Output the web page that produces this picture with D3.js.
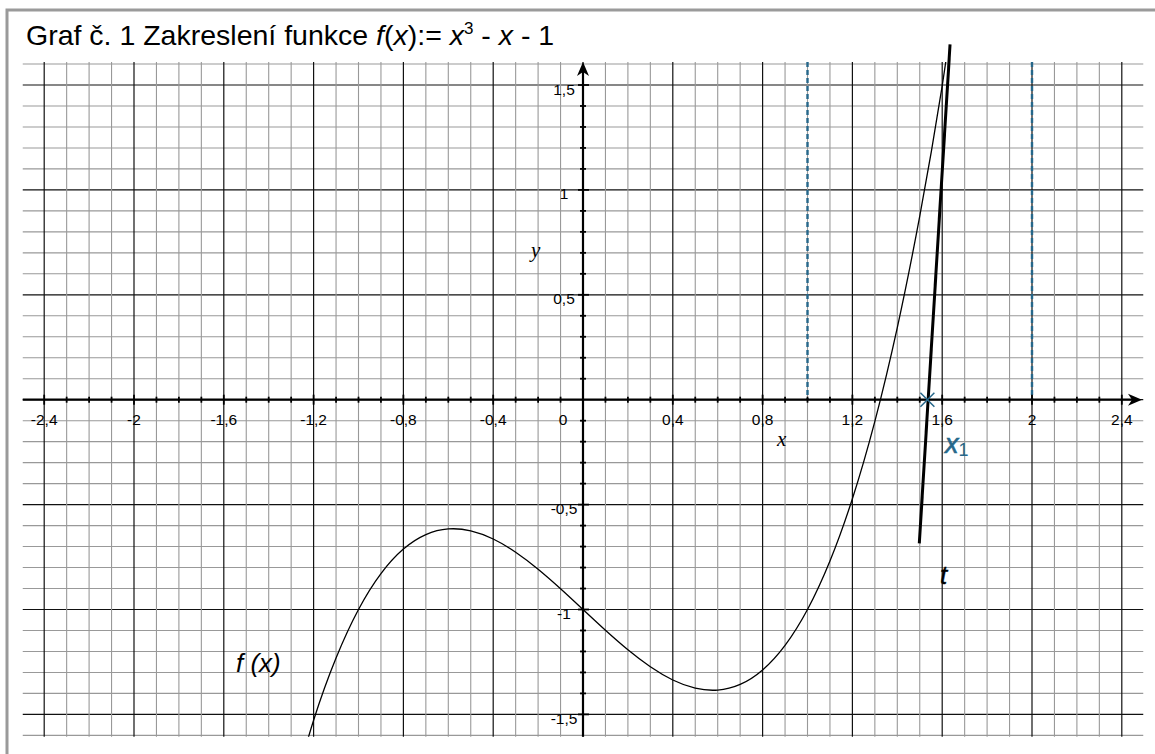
<!DOCTYPE html>
<html>
<head>
<meta charset="utf-8">
<script src="https://cdn.jsdelivr.net/npm/d3@7"></script>
<style>
  html, body { margin: 0; padding: 0; background: #fff; }
  svg { display: block; }
</style>
</head>
<body>
<svg id="chart" width="1155" height="754"></svg>
<script>
// f(x) = x^3 - x - 1, values at 0.1 steps
const curveX = [-1.3, -1.2, -1.1, -1.0, -0.9, -0.8, -0.7, -0.6, -0.5, -0.4, -0.3, -0.2, -0.1,
                0.0, 0.1, 0.2, 0.3, 0.4, 0.5, 0.6, 0.7, 0.8, 0.9, 1.0, 1.1, 1.2, 1.3, 1.4, 1.5, 1.6, 1.7];
const curveY = [-1.897, -1.528, -1.231, -1.0, -0.829, -0.712, -0.643, -0.616, -0.625, -0.664, -0.727, -0.808, -0.901,
                -1.0, -1.099, -1.192, -1.273, -1.336, -1.375, -1.384, -1.357, -1.288, -1.171, -1.0, -0.769, -0.472, -0.103, 0.344, 0.875, 1.496, 2.213];

// tangent t (end points) and its root x1
const tangentX = [1.498, 1.635];
const tangentY = [-0.685, 1.694];
const rootX1 = 1.534;

// interval bounds [a, b]
const intervalX = [1, 2];

// axis tick labels
const xTickValues = [-2.4, -2, -1.6, -1.2, -0.8, -0.4, 0, 0.4, 0.8, 1.2, 1.6, 2, 2.4];
const xTickLabels = ["-2,4", "-2", "-1,6", "-1,2", "-0,8", "-0,4", "0", "0,4", "0,8", "1,2", "1,6", "2", "2,4"];
const yTickValues = [1.5, 1, 0.5, -0.5, -1, -1.5];
const yTickLabels = ["1,5", "1", "0,5", "-0,5", "-1", "-1,5"];

const svg = d3.select("#chart");
const X0 = 583, KX = 224.5, Y0 = 399.7, KY = 209.8;
const x = d3.scaleLinear().domain([-2.5, 2.5]).range([X0 - 2.5 * KX, X0 + 2.5 * KX]);
const y = d3.scaleLinear().domain([-1.6, 1.6]).range([Y0 + 1.6 * KY, Y0 - 1.6 * KY]);

const BLUE = "#26678a";
const sans = "'Liberation Sans', Arial, Helvetica, sans-serif";

// frame
svg.append("rect").attr("x", 7).attr("y", 10).attr("width", 1160).attr("height", 760)
  .attr("fill", "none").attr("stroke", "#9a9a9a").attr("stroke-width", 3);

// grid
const grid = svg.append("g");
const hVals = d3.range(-16, 17).map(i => i / 10);
const vVals = d3.range(-24, 25).map(i => i / 10);
const isMajorY = v => Math.abs(Math.round(v * 10) % 5) === 0;
const isMajorX = v => Math.abs(Math.round(v * 10) % 4) === 0;
const gx0 = x(-2.5) + 1, gx1 = x(2.5) - 1;
const gy0 = y(1.61), gy1 = y(-1.606);

grid.selectAll("line.h").data(hVals).join("line")
  .attr("x1", gx0).attr("x2", gx1)
  .attr("y1", d => y(d)).attr("y2", d => y(d))
  .attr("stroke", d => isMajorY(d) ? "#111" : "#999")
  .attr("stroke-width", d => isMajorY(d) ? 1.2 : 1.1);

grid.selectAll("line.v").data(vVals).join("line")
  .attr("y1", gy0).attr("y2", gy1)
  .attr("x1", d => x(d)).attr("x2", d => x(d))
  .attr("stroke", d => isMajorX(d) ? "#111" : "#999")
  .attr("stroke-width", d => isMajorX(d) ? 1.2 : 1.1);

// interval bounds (dashed)
svg.selectAll("line.bound").data(intervalX).join("line")
  .attr("x1", d => x(d)).attr("x2", d => x(d))
  .attr("y1", gy0).attr("y2", y(0))
  .attr("stroke", BLUE).attr("stroke-width", 2.4)
  .attr("stroke-dasharray", "5,3");

// axes
const axes = svg.append("g");
const xTip = 1142, yTip = 62;
axes.append("line").attr("x1", gx0).attr("x2", xTip - 6).attr("y1", y(0)).attr("y2", y(0))
  .attr("stroke", "#000").attr("stroke-width", 2.2);
axes.append("line").attr("x1", x(0)).attr("x2", x(0)).attr("y1", gy1).attr("y2", yTip + 6)
  .attr("stroke", "#000").attr("stroke-width", 2.2);
axes.append("path")
  .attr("d", `M${xTip},${y(0)} L${xTip - 14},${y(0) - 6} L${xTip - 10},${y(0)} L${xTip - 14},${y(0) + 6} Z`)
  .attr("fill", "#000");
axes.append("path")
  .attr("d", `M${x(0)},${yTip} L${x(0) - 6},${yTip + 14} L${x(0)},${yTip + 10} L${x(0) + 6},${yTip + 14} Z`)
  .attr("fill", "#000");

// axis ticks
axes.selectAll("line.xt").data(vVals.filter(v => Math.abs(v) > 1e-9)).join("line")
  .attr("x1", d => x(d)).attr("x2", d => x(d))
  .attr("y1", d => y(0) - (isMajorX(d) ? 5 : 3)).attr("y2", d => y(0) + (isMajorX(d) ? 5 : 3))
  .attr("stroke", "#000").attr("stroke-width", 1.8);
axes.selectAll("line.yt").data(d3.range(-15, 16).filter(i => i !== 0).map(i => i / 10)).join("line")
  .attr("y1", d => y(d)).attr("y2", d => y(d))
  .attr("x1", d => x(0) - (isMajorY(d) ? 5 : 3)).attr("x2", d => x(0) + (isMajorY(d) ? 6 : 3))
  .attr("stroke", "#000").attr("stroke-width", 1.8);

// tick labels
axes.selectAll("text.xl").data(xTickValues).join("text")
  .attr("x", (d, i) => d === 0 ? x(0) - 20 : x(d))
  .attr("y", y(0) + 25)
  .attr("text-anchor", "middle")
  .attr("font-family", sans).attr("font-size", 15.5).attr("fill", "#000")
  .text((d, i) => xTickLabels[i]);
axes.selectAll("text.yl").data(yTickValues).join("text")
  .attr("x", x(0) - 19)
  .attr("y", d => y(d) + 9.5)
  .attr("text-anchor", "middle")
  .attr("font-family", sans).attr("font-size", 15.5).attr("fill", "#000")
  .text((d, i) => yTickLabels[i]);

// axis names
svg.append("text").attr("x", 777).attr("y", 446)
  .attr("font-family", "'Liberation Serif', 'Times New Roman', serif").attr("font-style", "italic")
  .attr("font-size", 21).text("x");
svg.append("text").attr("x", 531).attr("y", 257)
  .attr("font-family", "'Liberation Serif', 'Times New Roman', serif").attr("font-style", "italic")
  .attr("font-size", 21).text("y");

// clip to grid area
svg.append("clipPath").attr("id", "plotClip")
  .append("rect").attr("x", gx0).attr("y", gy0).attr("width", gx1 - gx0).attr("height", gy1 - gy0);

// function curve
const pts = curveX.map((v, i) => [v, curveY[i]]);
svg.append("path")
  .attr("clip-path", "url(#plotClip)")
  .attr("d", d3.line().x(d => x(d[0])).y(d => y(d[1])).curve(d3.curveNatural)(pts))
  .attr("fill", "none").attr("stroke", "#000").attr("stroke-width", 1.3);

// tangent line t
svg.append("line")
  .attr("x1", x(tangentX[0])).attr("y1", y(tangentY[0]))
  .attr("x2", x(tangentX[1])).attr("y2", y(tangentY[1]))
  .attr("stroke", "#000").attr("stroke-width", 3);

// root marker x1
const mx = x(rootX1), my = y(0), r = 7;
svg.append("path")
  .attr("d", `M${mx - r},${my - r} L${mx + r},${my + r} M${mx - r},${my + r} L${mx + r},${my - r}`)
  .attr("stroke", BLUE).attr("stroke-width", 1.5).attr("fill", "none");

// labels
const x1Label = svg.append("text").attr("x", 945).attr("y", 453)
  .attr("font-family", sans).attr("fill", BLUE).attr("stroke", BLUE).attr("stroke-width", 0.6);
x1Label.append("tspan").attr("font-style", "italic").attr("font-size", 27).text("x");
x1Label.append("tspan").attr("font-size", 18).attr("stroke-width", 0).attr("dy", 3).text("1");

svg.append("text").attr("x", 940).attr("y", 584)
  .attr("font-family", sans).attr("font-style", "italic").attr("font-size", 26)
  .attr("stroke", "#000").attr("stroke-width", 0.4).text("t");

svg.append("text").attr("x", 236).attr("y", 672)
  .attr("font-family", sans).attr("font-style", "italic").attr("font-size", 26).text("f (x)");

// title
const title = svg.append("text").attr("x", 26).attr("y", 45)
  .attr("font-family", sans).attr("font-size", 28.5).attr("fill", "#000");
title.append("tspan").text("Graf č. 1 Zakreslení funkce ");
title.append("tspan").attr("font-style", "italic").text("f");
title.append("tspan").text("(");
title.append("tspan").attr("font-style", "italic").text("x");
title.append("tspan").text("):= ");
title.append("tspan").attr("font-style", "italic").text("x");
title.append("tspan").attr("font-size", 17).attr("dy", -11).text("3");
title.append("tspan").attr("dy", 11).text(" - ");
title.append("tspan").attr("font-style", "italic").text("x");
title.append("tspan").text(" - 1");
</script>
</body>
</html>
